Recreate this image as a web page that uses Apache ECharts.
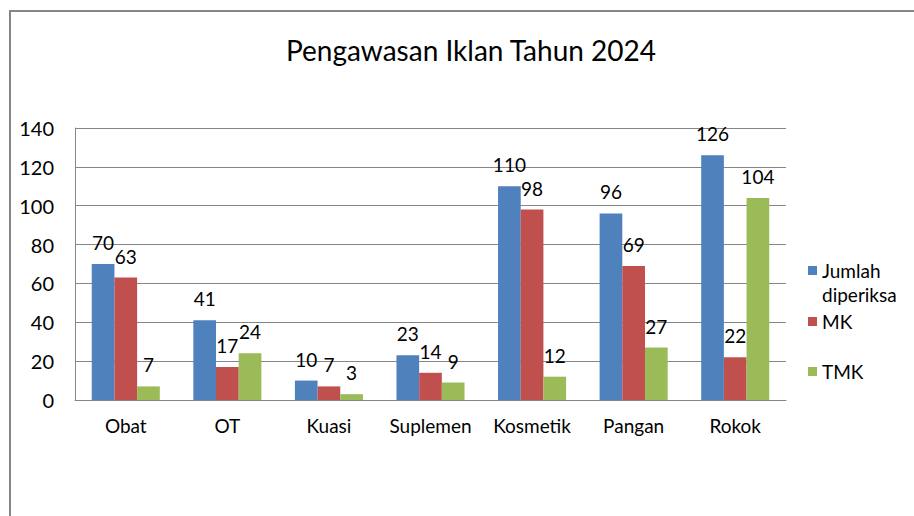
<!DOCTYPE html>
<html>
<head>
<meta charset="utf-8">
<script src="https://cdn.jsdelivr.net/npm/echarts@6/dist/echarts.min.js"></script>
<style>
  html, body { margin: 0; padding: 0; background: #fff; }
  #chart { width: 914px; height: 516px; }
</style>
</head>
<body>
<div id="chart"></div>
<script>
// data
const categories = ['Obat', 'OT', 'Kuasi', 'Suplemen', 'Kosmetik', 'Pangan', 'Rokok'];
const diperiksa = [70, 41, 10, 23, 110, 96, 126];
const mk = [63, 17, 7, 14, 98, 69, 22];
const tmk = [7, 24, 3, 9, 12, 27, 104];

const FONT = 'Lato, "Open Sans", sans-serif';
const chart = echarts.init(document.getElementById('chart'), null, { renderer: 'svg' });

const label = {
  show: true,
  position: 'top',
  distance: 12,
  color: '#000',
  fontSize: 19,
  fontFamily: FONT
};

// one legend per entry so each can sit where the original has it
const legendBase = {
  orient: 'vertical',
  left: 808,
  itemWidth: 9,
  itemHeight: 9,
  itemGap: 0,
  padding: 0,
  icon: 'rect',
  selectedMode: false,
  textStyle: { color: '#000', fontSize: 19, fontFamily: FONT, lineHeight: 19 }
};

chart.setOption({
  animation: false,
  color: ['#4F81BD', '#C0504D', '#9BBB59'],
  title: {
    text: 'Pengawasan Iklan Tahun 2024',
    left: 281,
    top: 31,
    textStyle: { color: '#000', fontSize: 28, fontWeight: 'normal', fontFamily: FONT }
  },
  legend: [
    Object.assign({}, legendBase, { top: 261, data: ['Jumlah diperiksa'], formatter: () => 'Jumlah' }),
    Object.assign({}, legendBase, { top: 312, data: ['MK'] }),
    Object.assign({}, legendBase, { top: 362, data: ['TMK'] })
  ],
  graphic: [
    {
      type: 'text',
      left: 822,
      top: 285,
      style: { text: 'diperiksa', fill: '#000', fontSize: 19, fontFamily: FONT, lineHeight: 19 }
    },
    {
      type: 'rect',
      silent: true,
      shape: { x: 10, y: 11, width: 2000, height: 2000 },
      style: { fill: 'none', stroke: '#868686', lineWidth: 2 }
    }
  ],
  grid: { left: 75, right: 128, top: 128, bottom: 116 },
  xAxis: {
    type: 'category',
    data: categories,
    axisLine: { lineStyle: { color: '#868686' } },
    axisTick: { show: false },
    axisLabel: { color: '#000', fontSize: 19, fontFamily: FONT, margin: 16, interval: 0 }
  },
  yAxis: {
    type: 'value',
    min: 0,
    max: 140,
    interval: 20,
    axisLine: { show: true, lineStyle: { color: '#868686' } },
    axisTick: { show: false },
    splitLine: { lineStyle: { color: '#868686' } },
    axisLabel: { color: '#000', fontSize: 20, fontFamily: FONT, margin: 21 }
  },
  series: [
    { name: 'Jumlah diperiksa', type: 'bar', data: diperiksa, barGap: '0%', barCategoryGap: '33%', label },
    { name: 'MK', type: 'bar', data: mk, label },
    { name: 'TMK', type: 'bar', data: tmk, label }
  ]
});
</script>
</body>
</html>
